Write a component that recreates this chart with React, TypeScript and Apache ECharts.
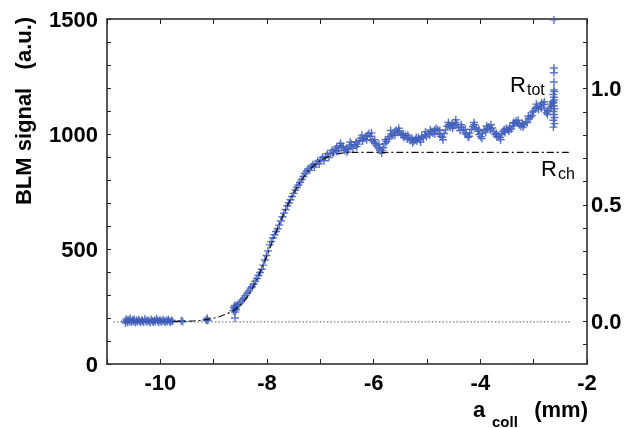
import React, { useEffect, useRef } from 'react';
import * as echarts from 'echarts';

// Measured BLM signal (a.u.) vs collimator position a_coll (mm)
const baselinePoints: [number, number][] = [
  [-10.66, 186], [-10.65, 178], [-10.64, 195], [-10.62, 189], [-10.61, 182], [-10.59, 192], [-10.57, 185], [-10.56, 198],
  [-10.54, 183], [-10.52, 190], [-10.5, 186], [-10.49, 194], [-10.47, 180], [-10.45, 189], [-10.43, 184], [-10.41, 193],
  [-10.39, 187], [-10.37, 181], [-10.35, 191], [-10.33, 186], [-10.31, 183], [-10.29, 196], [-10.27, 188], [-10.25, 184],
  [-10.23, 190], [-10.21, 186], [-10.19, 180], [-10.17, 193], [-10.15, 187], [-10.13, 183], [-10.11, 190], [-10.09, 185],
  [-10.07, 197], [-10.05, 188], [-10.03, 182], [-10.01, 191], [-9.99, 186], [-9.97, 184], [-9.95, 192], [-9.93, 187],
  [-9.91, 181], [-9.89, 189], [-9.87, 185], [-9.85, 193], [-9.83, 186], [-9.81, 182], [-9.79, 190], [-9.77, 186],
  [-9.61, 188], [-9.58, 185], [-9.14, 191], [-9.12, 199], [-9.11, 189],
];

const risingPoints: [number, number][] = [
  [-8.63, 232], [-8.62, 248], [-8.61, 240], [-8.6, 226], [-8.6, 255], [-8.6, 200], [-8.59, 244], [-8.58, 236],
  [-8.57, 252], [-8.55, 258], [-8.52, 262], [-8.49, 270], [-8.46, 280], [-8.43, 287], [-8.4, 298], [-8.37, 309],
  [-8.34, 318], [-8.31, 330], [-8.28, 336], [-8.25, 348], [-8.22, 360], [-8.19, 372], [-8.16, 385], [-8.13, 398],
  [-8.1, 412], [-8.07, 430], [-8.04, 452], [-8.01, 472], [-7.98, 492], [-7.95, 518], [-7.92, 532], [-7.89, 548],
  [-7.86, 562], [-7.83, 576], [-7.8, 588], [-7.77, 604], [-7.74, 622], [-7.71, 640], [-7.68, 656], [-7.65, 672],
  [-7.62, 688], [-7.59, 700], [-7.56, 714], [-7.53, 728], [-7.5, 742], [-7.47, 756], [-7.44, 768], [-7.41, 778],
  [-7.38, 790], [-7.35, 802], [-7.32, 815], [-7.29, 828], [-7.26, 838], [-7.23, 848], [-7.2, 842], [-7.17, 858],
  [-7.14, 866], [-7.11, 856], [-7.08, 872], [-7.05, 882], [-7.02, 870], [-6.99, 888], [-6.96, 898], [-6.93, 884],
  [-6.9, 902], [-6.87, 914], [-6.84, 898], [-6.81, 916], [-6.78, 928], [-6.75, 918], [-6.72, 935], [-6.69, 944],
  [-6.66, 928], [-6.63, 950], [-6.6, 942],
];

const plateauPoints: [number, number][] = [
  [-6.57, 946], [-6.54, 928], [-6.51, 938], [-6.48, 932], [-6.45, 948], [-6.42, 955], [-6.39, 938], [-6.36, 952],
  [-6.33, 964], [-6.3, 956], [-6.27, 972], [-6.24, 982], [-6.21, 970], [-6.18, 980], [-6.15, 988], [-6.12, 994],
  [-6.09, 1002], [-6.06, 990], [-6.03, 972], [-6.0, 965], [-5.97, 958], [-5.94, 948], [-5.91, 938], [-5.88, 928],
  [-5.85, 917], [-5.82, 940], [-5.79, 958], [-5.76, 966], [-5.73, 978], [-5.7, 988], [-5.67, 1000], [-5.64, 994],
  [-5.61, 1008], [-5.58, 1016], [-5.55, 1006], [-5.52, 1013], [-5.49, 1000], [-5.46, 994], [-5.43, 985], [-5.4, 992],
  [-5.37, 978], [-5.34, 986], [-5.31, 972], [-5.28, 980], [-5.25, 968], [-5.22, 976], [-5.19, 970], [-5.16, 984],
  [-5.13, 976], [-5.1, 990], [-5.07, 982], [-5.04, 996], [-5.01, 988], [-4.98, 1002], [-4.95, 996], [-4.92, 1010],
  [-4.89, 1004], [-4.86, 1016], [-4.83, 1024], [-4.8, 1018], [-4.77, 1000], [-4.74, 990], [-4.71, 986], [-4.68, 1002],
  [-4.65, 1018], [-4.62, 1034], [-4.59, 1040], [-4.56, 1030], [-4.53, 1045], [-4.5, 1036], [-4.47, 1050], [-4.44, 1042],
  [-4.41, 1028], [-4.38, 1015], [-4.35, 1030], [-4.32, 1018], [-4.29, 1005], [-4.26, 998], [-4.23, 986], [-4.2, 1004],
  [-4.17, 1020], [-4.14, 1032], [-4.11, 1040], [-4.08, 1026], [-4.05, 1012], [-4.02, 998], [-3.99, 988], [-3.96, 1004],
  [-3.93, 1016], [-3.9, 1008], [-3.87, 1022], [-3.84, 1030], [-3.81, 1018], [-3.78, 1026], [-3.75, 1010], [-3.72, 998],
  [-3.69, 988], [-3.66, 992], [-3.63, 985], [-3.6, 1000], [-3.57, 1012], [-3.54, 1006], [-3.51, 1024], [-3.48, 1018],
  [-3.45, 1030], [-3.42, 1022], [-3.39, 1036], [-3.36, 1046], [-3.33, 1056], [-3.3, 1048], [-3.27, 1040], [-3.24, 1034],
  [-3.21, 1046], [-3.18, 1040], [-3.15, 1054], [-3.12, 1050], [-3.09, 1066], [-3.06, 1074], [-3.03, 1080], [-3.0, 1100],
  [-2.97, 1112], [-2.94, 1118], [-2.91, 1108], [-2.88, 1122], [-2.85, 1136], [-2.82, 1128], [-2.79, 1104], [-2.76, 1092],
  [-2.73, 1100], [-2.7, 1112], [-2.67, 1120], [-2.64, 1140],
];

// second, scattered markers around the plateau band
const plateauSpread: [number, number][] = [
  [-6.7, 925], [-6.62, 960], [-6.5, 922], [-6.44, 965], [-6.32, 945], [-6.22, 995], [-6.13, 975], [-6.04, 1005],
  [-5.98, 975], [-5.9, 955], [-5.84, 930], [-5.78, 975], [-5.68, 1015], [-5.6, 995], [-5.53, 1025], [-5.44, 1000],
  [-5.36, 995], [-5.27, 962], [-5.2, 985], [-5.12, 965], [-5.03, 1010], [-4.94, 1018], [-4.85, 1000], [-4.76, 1015],
  [-4.7, 975], [-4.6, 1050], [-4.52, 1025], [-4.46, 1062], [-4.36, 1040], [-4.28, 1020], [-4.21, 990], [-4.12, 1050],
  [-4.03, 1020], [-3.97, 980], [-3.88, 1035], [-3.8, 1040], [-3.7, 1002], [-3.62, 975], [-3.55, 1020], [-3.46, 1012],
  [-3.38, 1050], [-3.29, 1060], [-3.2, 1030], [-3.1, 1078], [-3.02, 1095], [-2.95, 1130], [-2.86, 1112], [-2.8, 1140],
  [-2.74, 1085], [-2.68, 1130],
];

const endClusterPoints: [number, number][] = [
  [-2.63, 1030], [-2.61, 1045], [-2.63, 1060], [-2.61, 1072], [-2.62, 1085], [-2.63, 1098], [-2.61, 1110], [-2.62, 1122],
  [-2.63, 1135], [-2.61, 1148], [-2.62, 1160], [-2.63, 1172], [-2.61, 1185], [-2.62, 1192], [-2.62, 1226], [-2.62, 1266],
  [-2.62, 1287], [-2.62, 1496],
];

// Channeling fit R_ch (dash-dot)
const fitCurve: [number, number][] = [
  [-9.75, 184], [-9.5, 186], [-9.25, 190], [-9.0, 199], [-8.8, 214], [-8.6, 237], [-8.4, 282], [-8.2, 362],
  [-8.0, 472], [-7.8, 590], [-7.6, 697], [-7.4, 782], [-7.2, 845], [-7.0, 884], [-6.8, 906], [-6.6, 917],
  [-6.4, 920], [-2.3, 920],
];

// zero level of the normalised scale (dotted)
const zeroLevelLine: [number, number][] = [[-10.88, 183], [-2.28, 183]];

const xLabelValues = [-10, -8, -6, -4, -2];
const leftLabelValues = [0, 500, 1000, 1500];
const rightLabelValues = [0, 0.5, 1.0];
const rightTickValues = [-0.1, 0, 0.1, 0.2, 0.3, 0.4, 0.5, 0.6, 0.7, 0.8, 0.9, 1.0, 1.1, 1.2];

export default function App() {
  const ref = useRef<HTMLDivElement>(null);
  useEffect(() => {
    const chart = echarts.init(ref.current!, null, { renderer: 'svg' });
    const font = '"Liberation Sans", Arial, Helvetica, sans-serif';
    const axisColor = '#222';
    const labelStyle = { fontSize: 22, fontWeight: 'bold', color: '#000', fontFamily: font };
    const plus = 'path://M5,0L5,10M0,5L10,5';
    const measured = [...baselinePoints, ...risingPoints, ...plateauPoints, ...plateauSpread, ...endClusterPoints];
    chart.setOption({
      animation: false,
      grid: { left: 107, right: 38, top: 19, bottom: 64 },
      xAxis: [
        {
          type: 'value', min: -11, max: -2, interval: 1, position: 'bottom',
          axisLine: { show: true, onZero: false, lineStyle: { color: axisColor, width: 1.5 } },
          axisTick: { show: true, inside: true, length: 5, lineStyle: { color: axisColor, width: 1 } },
          axisLabel: { ...labelStyle, customValues: xLabelValues, margin: 7, formatter: (v: number) => String(v) },
          splitLine: { show: false },
        },
        {
          type: 'value', min: -11, max: -2, interval: 1, position: 'top',
          axisLine: { show: true, onZero: false, lineStyle: { color: axisColor, width: 1.5 } },
          axisTick: { show: true, inside: true, length: 5, lineStyle: { color: axisColor, width: 1 } },
          axisLabel: { show: false },
          splitLine: { show: false },
        },
      ],
      yAxis: [
        {
          type: 'value', min: 0, max: 1500, interval: 100, position: 'left',
          axisLine: { show: true, onZero: false, lineStyle: { color: axisColor, width: 1.5 } },
          axisTick: { show: true, inside: true, length: 4, lineStyle: { color: axisColor, width: 1 } },
          axisLabel: { ...labelStyle, customValues: leftLabelValues, margin: 9, formatter: (v: number) => String(v) },
          splitLine: { show: false },
        },
        {
          type: 'value', min: -0.184, max: 1.3, position: 'right',
          axisLine: { show: true, onZero: false, lineStyle: { color: axisColor, width: 1.5 } },
          axisTick: { show: true, inside: true, length: 4, customValues: rightTickValues, lineStyle: { color: axisColor, width: 1 } },
          axisLabel: { ...labelStyle, customValues: rightLabelValues, margin: 4, formatter: (v: number) => v.toFixed(1) },
          splitLine: { show: false },
        },
      ],
      series: [
        {
          type: 'line', data: zeroLevelLine, showSymbol: false, silent: true, z: 1,
          lineStyle: { color: '#555', width: 1, type: [1.5, 2] },
        },
        {
          type: 'scatter', data: measured, symbol: plus, symbolSize: 8, clip: false, z: 2,
          itemStyle: { color: 'none', borderColor: '#3f5dba', borderWidth: 1.4, opacity: 0.85 },
        },
        {
          type: 'line', data: fitCurve, showSymbol: false, smooth: 0.35, silent: true, z: 3,
          lineStyle: { color: '#111', width: 1.2, type: [7, 3, 2, 3] },
        },
      ],
      graphic: [
        {
          type: 'text', x: 23, y: 111, rotation: Math.PI / 2,
          style: { text: 'BLM signal   (a.u.)', fill: '#000', font: `bold 22px ${font}`, align: 'center', verticalAlign: 'middle' },
        },
        { type: 'text', x: 473, y: 409, style: { text: 'a', fill: '#000', font: `bold 22px ${font}`, verticalAlign: 'middle' } },
        { type: 'text', x: 492, y: 421, style: { text: 'coll', fill: '#000', font: `bold 15px ${font}`, verticalAlign: 'middle' } },
        { type: 'text', x: 588, y: 409, style: { text: '(mm)', fill: '#000', font: `bold 22px ${font}`, align: 'right', verticalAlign: 'middle' } },
        { type: 'text', x: 510, y: 84, style: { text: 'R', fill: '#000', font: `22px ${font}`, verticalAlign: 'middle' } },
        { type: 'text', x: 527, y: 89, style: { text: 'tot', fill: '#000', font: `16px ${font}`, verticalAlign: 'middle' } },
        { type: 'text', x: 541, y: 168, style: { text: 'R', fill: '#000', font: `22px ${font}`, verticalAlign: 'middle' } },
        { type: 'text', x: 558, y: 173, style: { text: 'ch', fill: '#000', font: `16px ${font}`, verticalAlign: 'middle' } },
      ],
    });
    return () => chart.dispose();
  }, []);
  return <div ref={ref} style={{ position: 'fixed', left: 0, top: 0, width: 625, height: 428 }} />;
}
